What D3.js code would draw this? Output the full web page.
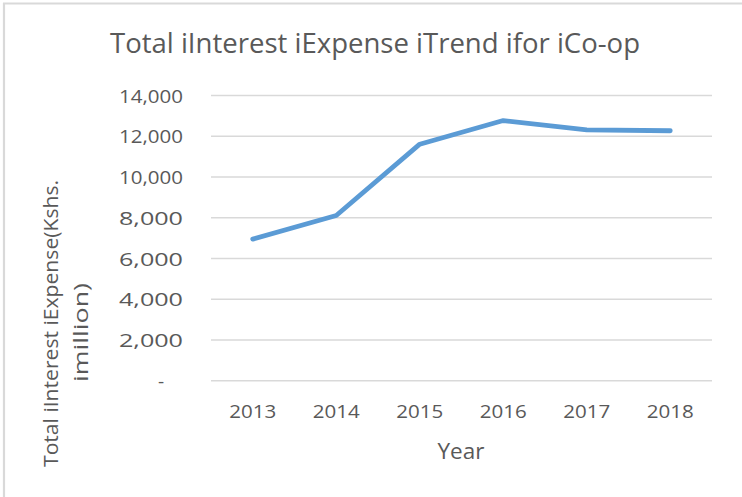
<!DOCTYPE html>
<html>
<head>
<meta charset="utf-8">
<script src="https://cdn.jsdelivr.net/npm/d3@7"></script>
<style>
  html, body { margin: 0; padding: 0; background: #fff; }
  svg { display: block; }
  text { font-family: "Open Sans", "Noto Sans", sans-serif; fill: #595959; }
</style>
</head>
<body>
<svg id="chart" width="742" height="497"></svg>
<script>
const years = ["2013", "2014", "2015", "2016", "2017", "2018"];
const interestExpense = [6950, 8110, 11610, 12770, 12310, 12270];
const yTicks = [0, 2000, 4000, 6000, 8000, 10000, 12000, 14000];
const titleText = "Total iInterest iExpense iTrend ifor iCo-op";
const yTitleLines = ["Total iInterest iExpense(Kshs.", "imillion)"];
const xTitleText = "Year";

const svg = d3.select("#chart");
const W = 742, H = 497;
const plot = { left: 211, right: 712, top: 95.5, bottom: 380.7 };

// outer border (only top/left visible in the crop)
svg.append("line").attr("x1", 4).attr("x2", 4).attr("y1", 3).attr("y2", H)
  .attr("stroke", "#d9d9d9").attr("stroke-width", 2.2);
svg.append("line").attr("x1", 3).attr("x2", W).attr("y1", 3.6).attr("y2", 3.6)
  .attr("stroke", "#d9d9d9").attr("stroke-width", 2);

const x = d3.scaleBand().domain(years).range([plot.left, plot.right]).padding(0);
const y = d3.scaleLinear().domain([0, 14000]).range([plot.bottom, plot.top]);

// gridlines
svg.append("g").selectAll("line").data(yTicks).join("line")
  .attr("x1", plot.left).attr("x2", plot.right)
  .attr("y1", d => y(d)).attr("y2", d => y(d))
  .attr("stroke", "#d9d9d9").attr("stroke-width", 1.5);

// y axis labels
const yAxis = d3.axisLeft(y).tickValues(yTicks)
  .tickFormat(d => d === 0 ? "-" : d3.format(",")(d))
  .tickSize(0).tickPadding(0);
const yg = svg.append("g").attr("transform", `translate(183,0)`).call(yAxis);
yg.select(".domain").remove();
yg.selectAll("text")
  .attr("x", d => d === 0 ? -22 : 0)
  .attr("dy", "0.35em")
  .style("font-size", "19px")
  .style("fill", "#595959")
  .style("font-family", "'Open Sans', sans-serif")
  .each(function(d) { if (d !== 0) d3.select(this).attr("textLength", 64).attr("lengthAdjust", "spacingAndGlyphs"); else d3.select(this).attr("text-anchor", "middle"); });

// x axis labels
const xAxis = d3.axisBottom(x).tickSize(0).tickPadding(0);
const xg = svg.append("g").attr("transform", `translate(0,411)`).call(xAxis);
xg.select(".domain").remove();
xg.selectAll("text")
  .attr("y", 0).attr("dy", "0.35em")
  .style("font-size", "19px")
  .style("fill", "#595959")
  .style("font-family", "'Open Sans', sans-serif")
  .attr("textLength", 47).attr("lengthAdjust", "spacingAndGlyphs");

// line
const line = d3.line().x((d, i) => x(years[i]) + x.bandwidth() / 2).y(d => y(d));
svg.append("path").datum(interestExpense)
  .attr("d", line)
  .attr("fill", "none")
  .attr("stroke", "#5b9bd5")
  .attr("stroke-width", 4.8)
  .attr("stroke-linecap", "round")
  .attr("stroke-linejoin", "round");

// title
svg.append("text").attr("x", 375).attr("y", 53)
  .attr("text-anchor", "middle")
  .style("font-size", "27px")
  .attr("textLength", 530).attr("lengthAdjust", "spacingAndGlyphs")
  .text(titleText);

// x title
svg.append("text").attr("x", 461).attr("y", 459)
  .attr("text-anchor", "middle")
  .style("font-size", "21px")
  .attr("textLength", 47).attr("lengthAdjust", "spacingAndGlyphs")
  .text(xTitleText);

// y title (two lines)
svg.append("text").attr("transform", "translate(58,323.5) rotate(-90)")
  .attr("text-anchor", "middle")
  .style("font-size", "20.5px")
  .attr("textLength", 287).attr("lengthAdjust", "spacingAndGlyphs")
  .text(yTitleLines[0]);
svg.append("text").attr("transform", "translate(88,332.5) rotate(-90)")
  .attr("text-anchor", "middle")
  .style("font-size", "20.5px")
  .attr("textLength", 99).attr("lengthAdjust", "spacingAndGlyphs")
  .text(yTitleLines[1]);
</script>
</body>
</html>
